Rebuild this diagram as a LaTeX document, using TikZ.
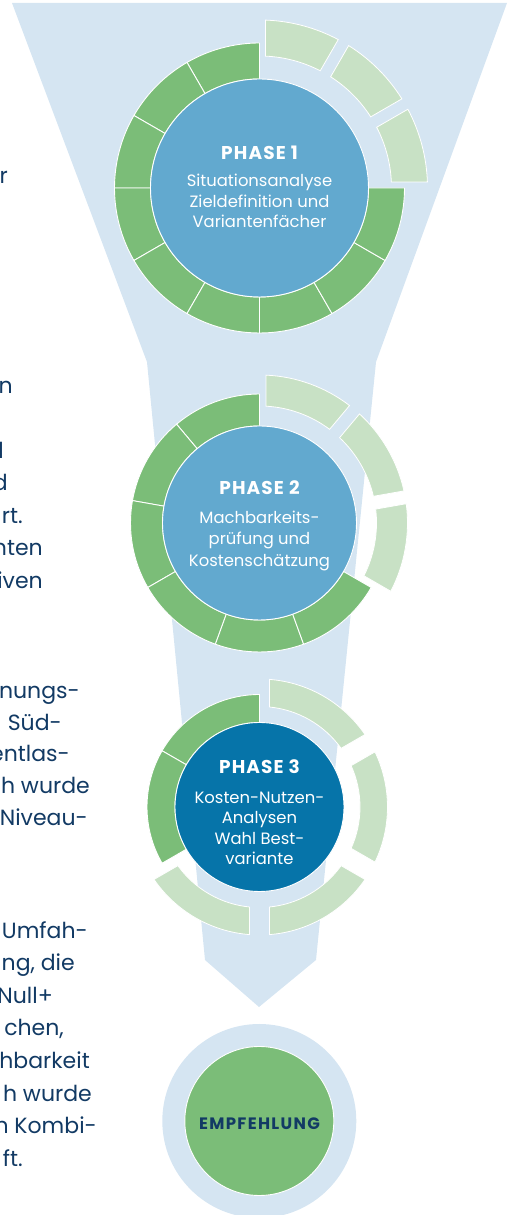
\documentclass[tikz,border=0pt]{standalone}
\usepackage{fontspec}
\setmainfont{Poppins}
\newfontfamily\headfont[LetterSpace=6]{Poppins}
\newfontfamily\empfont[LetterSpace=8]{Poppins}
\definecolor{funnelblue}{HTML}{D5E5F2}
\definecolor{dgreen}{HTML}{7BBD78}
\definecolor{lgreen}{HTML}{C8E1C5}
\definecolor{pblue}{HTML}{62A9CF}
\definecolor{dblue}{HTML}{0674A9}
\definecolor{navy}{HTML}{123A64}
% dark ring part: cx, cy, r1, r2, a1, a2
\newcommand\ringpart[6]{%
  \begin{scope}[shift={(#1,#2)}]
    \path[darkpart] (#5:#4) arc[start angle=#5,end angle=#6,radius=#4]
      -- (#6:#3) arc[start angle=#6,end angle=#5,radius=#3] -- cycle;
  \end{scope}}
% light detached part with parallel gaps: cx, cy, r1, r2, a1, a2, w
\newcommand\gappart[7]{%
  \begin{scope}[shift={(#1,#2)}]
    \pgfmathsetmacro\gOa{#5+asin(#7/#4)}
    \pgfmathsetmacro\gOb{#6-asin(#7/#4)}
    \pgfmathsetmacro\gIa{#5+asin(#7/#3)}
    \pgfmathsetmacro\gIb{#6-asin(#7/#3)}
    \path[lightpart] (\gOa:#4) arc[start angle=\gOa,end angle=\gOb,radius=#4]
      -- (\gIb:#3) arc[start angle=\gIb,end angle=\gIa,radius=#3] -- cycle;
  \end{scope}}
\begin{document}
\begin{tikzpicture}[x=1pt,y=1pt,
  darkpart/.style={fill=dgreen,draw=white,line width=0.9pt},
  lightpart/.style={fill=lgreen,draw=white,line width=0.8pt},
  core/.style={circle,draw=white,line width=0.9pt,inner sep=0pt},
  phasehead/.style={anchor=base,inner sep=0pt,text=white,font={\headfont\bfseries\fontsize{18.5}{22}\selectfont}},
  phasebody/.style={anchor=base,inner sep=0pt,text=white,font={\fontsize{16.4}{20}\selectfont}},
  sidetext/.style={anchor=base east,inner sep=0pt,text=navy,font={\fontsize{22}{30}\selectfont}}]
\useasboundingbox (0,0) rectangle (508,1215);
\clip (0,0) rectangle (508,1215);
% funnel
\fill[funnelblue] (12,1212) -- (507,1212) -- (376,853) -- (316,255) -- (259,208)
  -- (205,255) -- (147,853) -- cycle;
% ---------- Phase 1 ----------
\foreach \a in {90,120,...,330}{\ringpart{259.5}{1027}{109}{145}{\a}{\a+30}}
\gappart{259.5}{1027}{132}{168}{60}{90}{6}
\gappart{259.5}{1027}{132}{168}{30}{60}{6}
\gappart{259.5}{1027}{132}{168}{0}{30}{6}
\node[core,fill=pblue,minimum size=218pt] (p1) at (259.5,1027) {};
\node[phasehead] (p1h) at (259.5,1055.7) {PHASE 1};
\node[phasebody] (p1a) at (259.5,1028.3) {Situationsanalyse};
\node[phasebody] (p1b) at (259.5,1007.8) {Zieldefinition und};
\node[phasebody] (p1c) at (259.5,987.3) {Variantenfächer};
% ---------- Phase 2 ----------
\foreach \a in {90,130,...,290}{\ringpart{259.5}{692}{97}{129}{\a}{\a+40}}
\gappart{259.5}{692}{117}{148}{50}{90}{6.5}
\gappart{259.5}{692}{117}{148}{10}{50}{6.5}
\gappart{259.5}{692}{117}{148}{-30}{10}{6.5}
\node[core,fill=pblue,minimum size=194pt] (p2) at (259.5,692) {};
\node[phasehead] (p2h) at (259.5,720) {PHASE 2};
\node[phasebody] (p2a) at (259.5,691.7) {Machbarkeits-};
\node[phasebody] (p2b) at (259.5,670) {prüfung und};
\node[phasebody] (p2c) at (259.5,648.3) {Kostenschätzung};
% ---------- Phase 3 ----------
\ringpart{259.5}{408}{84.5}{112.5}{90}{150}
\ringpart{259.5}{408}{84.5}{112.5}{150}{210}
\gappart{259.5}{408}{100.5}{128}{210}{270}{10}
\gappart{259.5}{408}{100.5}{128}{270}{330}{10}
\gappart{259.5}{408}{100.5}{128}{330}{390}{10}
\gappart{259.5}{408}{100.5}{128}{30}{90}{10}
\node[core,fill=dblue,minimum size=169pt] (p3) at (259.5,408) {};
\node[phasehead] (p3h) at (259.5,441) {PHASE 3};
\node[phasebody] (p3a) at (259.5,411.7) {Kosten-Nutzen-};
\node[phasebody] (p3b) at (259.5,391.2) {Analysen};
\node[phasebody] (p3c) at (259.5,370.7) {Wahl Best-};
\node[phasebody] (p3d) at (259.5,350.2) {variante};
% ---------- Empfehlung ----------
\node[circle,fill=funnelblue,inner sep=0pt,minimum size=194pt] (empring) at (259.3,94) {};
\node[core,fill=dgreen,minimum size=149pt] (emp) at (259.3,94) {};
\node[anchor=base,inner sep=0pt,text=navy,font={\empfont\bfseries\fontsize{16.5}{20}\selectfont}] (empt) at (259.5,85.7) {EMPFEHLUNG};
% ---------- left text fragments ----------
\node[sidetext] (s1) at (8,1031.5) {r};
\node[sidetext] (s2) at (13,821) {n};
\node[sidetext] (s3) at (4,756.5) {l};
\node[sidetext] (s4) at (8,724) {d};
\node[sidetext] (s5) at (23,691.5) {rt.};
\node[sidetext] (s6) at (43,659) {nten};
\node[sidetext] (s7) at (43,626.5) {iven};
\node[sidetext] (s8) at (80,516) {anungs-};
\node[sidetext] (s9) at (62,484.5) {Süd-};
\node[sidetext] (s10) at (70,453) {entlas-};
\node[sidetext] (s11) at (90,421) {h wurde};
\node[sidetext] (s12) at (88,389.5) {Niveau-};
\node[sidetext] (s13) at (88,276.5) {-Umfah-};
\node[sidetext] (s14) at (75,244) {ng, die};
\node[sidetext] (s15) at (53,211.5) {Null+};
\node[sidetext] (s16) at (64,179) {chen,};
\node[sidetext] (s17) at (90,146) {hbarkeit};
\node[sidetext] (s18) at (92,113.5) {h wurde};
\node[sidetext] (s19) at (97,81) {n Kombi-};
\node[sidetext] (s20) at (23,48.5) {ft.};
\end{tikzpicture}
\end{document}
